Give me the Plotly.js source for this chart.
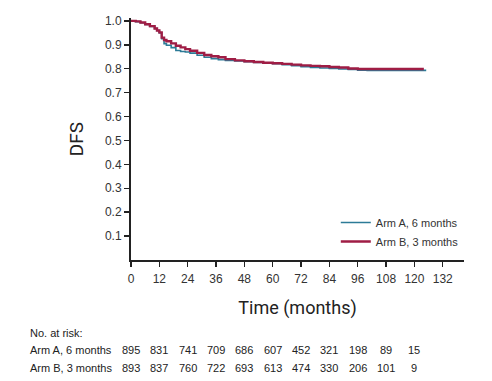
<!DOCTYPE html>
<html>
<head>
<meta charset="utf-8">
<script src="https://cdn.plot.ly/plotly-3.0.1.min.js"></script>
<style>html,body{margin:0;padding:0;background:#fff;}#chart{width:492px;height:381px;}</style>
</head>
<body>
<div id="chart"></div>
<script>
// Kaplan-Meier DFS estimates
const armA_t = [0,2,4,6,8,10,11,12,13,14,15,17,19,21,23,25,28,31,34,37,40,44,48,52,56,60,64,68,72,76,80,84,88,92,96,100,110,120,125];
const armA_s = [1.0,0.997,0.992,0.985,0.977,0.968,0.96,0.95,0.925,0.905,0.898,0.888,0.876,0.872,0.87,0.865,0.856,0.848,0.842,0.838,0.835,0.832,0.829,0.826,0.823,0.821,0.817,0.813,0.808,0.805,0.803,0.801,0.799,0.797,0.794,0.793,0.793,0.793,0.793];
const armB_t = [0,2,4,6,8,10,11,12,13,14,15,17,19,21,23,25,28,31,34,37,40,44,48,52,56,60,64,68,72,76,80,84,88,92,96,100,110,120,124];
const armB_s = [1.0,0.998,0.993,0.986,0.978,0.968,0.96,0.952,0.93,0.92,0.915,0.906,0.896,0.889,0.882,0.875,0.866,0.857,0.852,0.848,0.84,0.835,0.831,0.828,0.825,0.823,0.82,0.817,0.814,0.812,0.81,0.807,0.805,0.801,0.799,0.799,0.799,0.799,0.799];

const seriesNames = ["Arm A, 6 months", "Arm B, 3 months"];
const xTicks = [0,12,24,36,48,60,72,84,96,108,120,132];
const yTicks = [0.1,0.2,0.3,0.4,0.5,0.6,0.7,0.8,0.9,1.0];
const riskTimes = [0,12,24,36,48,60,72,84,96,108,120];
const riskA = [895,831,741,709,686,607,452,321,198,89,15];
const riskB = [893,837,760,722,693,613,474,330,206,101,9];

const colA = "#2c7b97";
const colB = "#9f1d45";

const traces = [
  {x: armA_t, y: armA_s, name: seriesNames[0], type: "scatter", mode: "lines",
   line: {color: colA, width: 1.6, shape: "hv"}},
  {x: armB_t, y: armB_s, name: seriesNames[1], type: "scatter", mode: "lines",
   line: {color: colB, width: 2.4, shape: "hv"}}
];

const tickFont = {family: "Liberation Sans, Arial, sans-serif", size: 12, color: "#333"};
const tableFont = {family: "Liberation Sans, Arial, sans-serif", size: 11, color: "#222"};

const annotations = [];
annotations.push({xref: "paper", yref: "paper", x: -0.31, y: -0.3, xanchor: "left", yanchor: "middle",
  text: "No. at risk:", showarrow: false, font: tableFont});
annotations.push({xref: "paper", yref: "paper", x: -0.31, y: -0.372, xanchor: "left", yanchor: "middle",
  text: seriesNames[0], showarrow: false, font: tableFont});
annotations.push({xref: "paper", yref: "paper", x: -0.31, y: -0.447, xanchor: "left", yanchor: "middle",
  text: seriesNames[1], showarrow: false, font: tableFont});
riskTimes.forEach((t, i) => {
  annotations.push({xref: "x", yref: "paper", x: t, y: -0.372, xanchor: "center", yanchor: "middle",
    text: String(riskA[i]), showarrow: false, font: tableFont});
  annotations.push({xref: "x", yref: "paper", x: t, y: -0.447, xanchor: "center", yanchor: "middle",
    text: String(riskB[i]), showarrow: false, font: tableFont});
});

const layout = {
  width: 492, height: 381,
  margin: {l: 131, r: 28, t: 18, b: 121, pad: 0},
  paper_bgcolor: "#fff", plot_bgcolor: "#fff",
  showlegend: true,
  legend: {x: 0.615, y: 0.215, xanchor: "left", yanchor: "top", bgcolor: "rgba(0,0,0,0)",
    font: {family: "Liberation Sans, Arial, sans-serif", size: 11, color: "#333"},
    tracegroupgap: 0, itemwidth: 30},
  xaxis: {range: [0, 141], tickvals: xTicks, ticktext: xTicks.map(String), ticks: "outside", ticklen: 5,
    tickwidth: 1.5, tickcolor: "#222", showline: true, linecolor: "#222", linewidth: 2,
    showgrid: false, zeroline: false, tickfont: tickFont, fixedrange: true, ticklabelstandoff: 2,
    title: {text: "Time (months)", font: {family: "Roboto, sans-serif", size: 18, weight: 400, color: "#222"}, standoff: 16}},
  yaxis: {range: [0, 1.012], tickvals: yTicks, ticktext: yTicks.map(v => v.toFixed(1)), ticks: "outside", ticklen: 5,
    tickwidth: 1.5, tickcolor: "#222", showline: true, linecolor: "#222", linewidth: 2,
    showgrid: false, zeroline: false, tickfont: tickFont, fixedrange: true,
    title: {text: "DFS", font: {family: "Roboto, sans-serif", size: 19, weight: 400, color: "#222"}, standoff: 16}},
  annotations: annotations
};

Plotly.newPlot("chart", traces, layout, {displayModeBar: false, staticPlot: true});
</script>
</body>
</html>
